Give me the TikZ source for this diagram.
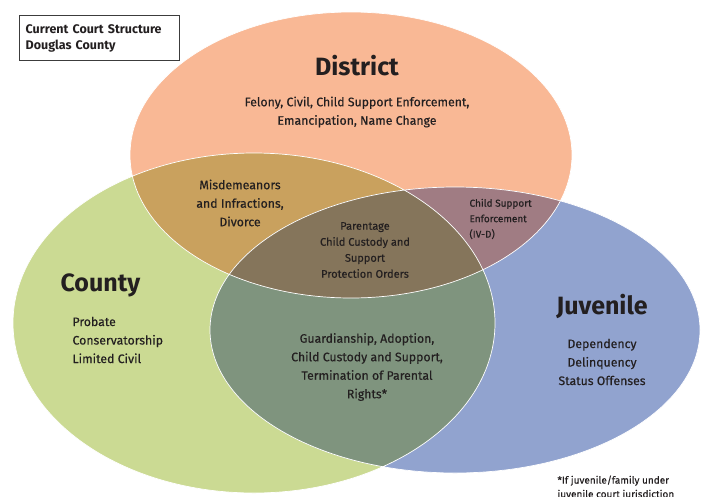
\documentclass[tikz,border=0pt]{standalone}
\usepackage{fontspec}
\setmainfont{Fira Sans}
\newfontfamily\bodyfont[FakeBold=0.35]{Fira Sans}
\definecolor{inkcol}{HTML}{231F20}
\definecolor{districtcol}{HTML}{F9B895}
\definecolor{countycol}{HTML}{CBDA93}
\definecolor{juvcol}{HTML}{91A3CF}
\definecolor{dcmix}{HTML}{C9A15E}
\definecolor{djmix}{HTML}{A07C83}
\definecolor{cjmix}{HTML}{7F947E}
\definecolor{allmix}{HTML}{85755B}
\definecolor{boxcol}{HTML}{3C3C3C}
\newcommand{\DistrictShape}{(351,155) ellipse [x radius=221, y radius=143]}
\newcommand{\CountyShape}{(254,323) ellipse [x radius=241, y radius=170]}
\newcommand{\JuvShape}{(455,330) ellipse [x radius=245, y radius=143]}
\begin{document}
\begin{tikzpicture}[x=1pt,y=-1pt,
    heading/.style={font=\bfseries\fontsize{25}{25}\selectfont, text=inkcol},
    body/.style={font=\bodyfont\fontsize{12.3}{18.5}\selectfont, align=center, text=inkcol},
    small/.style={font=\bodyfont\fontsize{11}{16}\selectfont, align=center, text=inkcol},
    tiny/.style={font=\bodyfont\fontsize{10}{15.5}\selectfont, align=left, text=inkcol}]
    \useasboundingbox (0,0) rectangle (704,496);

    \fill[districtcol] \DistrictShape;
    \fill[countycol] \CountyShape;
    \fill[juvcol] \JuvShape;
    \begin{scope}
        \clip \DistrictShape;
        \fill[dcmix] \CountyShape;
        \fill[djmix] \JuvShape;
    \end{scope}
    \begin{scope}
        \clip \CountyShape;
        \fill[cjmix] \JuvShape;
    \end{scope}
    \begin{scope}
        \clip \DistrictShape;
        \clip \CountyShape;
        \fill[allmix] \JuvShape;
    \end{scope}
    \draw[white, line width=0.7pt] \DistrictShape \CountyShape \JuvShape;

    \node[draw=boxcol, line width=1.4pt, anchor=north west, text width=148pt, inner xsep=6pt,
          minimum height=45pt, align=left, font=\bfseries\fontsize{12.5}{16}\selectfont, text=inkcol]
          (title) at (19,15) {Current Court Structure\\Douglas County};

    \node[heading] (district) at (357,66) {District};
    \node[body] (districtlist) at (357,112) {Felony, Civil, Child Support Enforcement,\\Emancipation, Name Change};

    \node[body] (dc) at (240,203) {Misdemeanors\\and Infractions,\\Divorce};
    \node[small] (all) at (365,250) {Parentage\\Child Custody and\\Support\\Protection Orders};
    \node[tiny, anchor=west] (dj) at (466,219) {Child Support\\Enforcement\\(IV-D)};

    \node[heading, anchor=west] (county) at (57,285) {County};
    \node[body, align=left, anchor=west] (countylist) at (69,340) {Probate\\Conservatorship\\Limited Civil};

    \node[body] (cj) at (367,367) {Guardianship, Adoption,\\Child Custody and Support,\\Termination of Parental\\Rights*};

    \node[heading] (juvenile) at (602,306) {Juvenile};
    \node[body] (juvlist) at (602,362) {Dependency\\Delinquency\\Status Offenses};

    \node[tiny, font=\bodyfont\fontsize{10}{14}\selectfont, anchor=north west] (note) at (554,472)
          {*If juvenile/family under\\juvenile court jurisdiction};
\end{tikzpicture}
\end{document}
